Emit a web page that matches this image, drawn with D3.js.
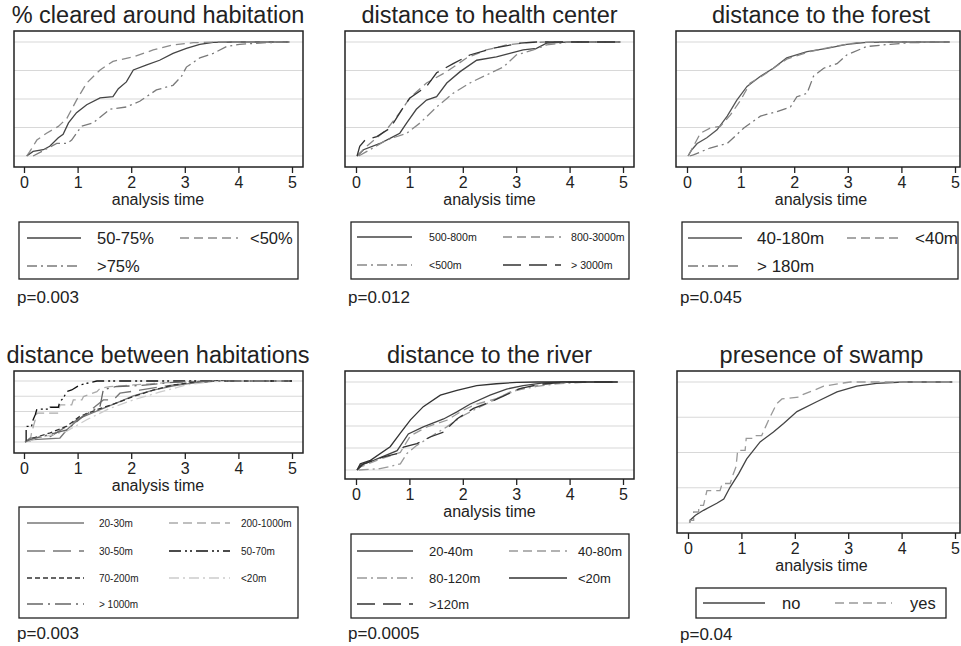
<!DOCTYPE html>
<html><head><meta charset="utf-8">
<script src="https://cdn.jsdelivr.net/npm/d3@7"></script>
<style>body{margin:0;background:#fff}svg{display:block}text{font-family:"Liberation Sans",Arial,sans-serif;fill:#222}</style>
</head><body>
<script>
// ---------- DATA (cumulative proportion vs analysis time) ----------
const xTicks = [0,1,2,3,4,5];
const yGrid = [0,0.25,0.5,0.75,1];

// Panel 1: % cleared around habitation
const cleared_labels = ["50-75%","<50%",">75%"];
const cleared_50_75 = [[0.05,0],[0.17,0.04],[0.36,0.055],[0.48,0.085],[0.64,0.16],[0.73,0.19],[0.83,0.29],[0.98,0.38],[1.17,0.45],[1.42,0.51],[1.66,0.52],[1.76,0.59],[1.91,0.65],[2.04,0.755],[2.29,0.8],[2.53,0.84],[2.78,0.9],[3.03,0.945],[3.28,0.98],[3.53,0.997],[3.9,1],[4.95,1]];
const cleared_lt50 = [[0.05,0],[0.11,0.04],[0.24,0.14],[0.42,0.2],[0.64,0.26],[0.8,0.33],[0.98,0.49],[1.17,0.64],[1.42,0.755],[1.66,0.83],[2.04,0.87],[2.41,0.93],[2.78,0.974],[3.16,0.994],[3.6,1],[4.95,1]];
const cleared_gt75 = [[0.17,0],[0.61,0.11],[0.8,0.11],[0.89,0.14],[1.07,0.26],[1.29,0.29],[1.6,0.41],[1.91,0.43],[2.16,0.48],[2.47,0.58],[2.78,0.62],[2.94,0.7],[3.03,0.78],[3.28,0.86],[3.53,0.9],[3.78,0.96],[4.02,0.98],[4.52,0.994],[4.95,1]];

// Panel 2: distance to health center
const health_labels = ["500-800m","800-3000m","<500m","> 3000m"];
const health_500_800 = [[0.02,0],[0.14,0.055],[0.45,0.11],[0.7,0.17],[0.82,0.2],[0.95,0.29],[1.13,0.41],[1.32,0.49],[1.51,0.52],[1.7,0.64],[1.95,0.74],[2.26,0.84],[2.63,0.87],[2.88,0.9],[3.13,0.93],[3.38,0.945],[3.57,0.99],[3.82,0.997],[4.06,1],[4.95,1]];
const health_800_3000 = [[0.02,0],[0.2,0.085],[0.57,0.23],[0.82,0.38],[1.01,0.51],[1.32,0.64],[1.7,0.74],[2.07,0.86],[2.44,0.93],[2.82,0.974],[3.19,0.994],[3.57,1],[4.95,1]];
const health_lt500 = [[0.05,0],[0.26,0.055],[0.57,0.14],[0.95,0.2],[1.2,0.29],[1.51,0.43],[1.82,0.55],[2.13,0.64],[2.44,0.71],[2.76,0.78],[3.0,0.886],[3.32,0.93],[3.57,0.974],[3.94,0.997],[4.3,1],[4.95,1]];
const health_gt3000 = [[0.02,0],[0.07,0.085],[0.17,0.14],[0.39,0.17],[0.64,0.245],[0.89,0.43],[1.01,0.51],[1.32,0.61],[1.51,0.73],[1.82,0.81],[2.13,0.886],[2.57,0.945],[3.07,0.99],[3.38,1],[4.95,1]];

// Panel 3: distance to the forest
const forest_labels = ["40-180m","<40m","> 180m"];
const forest_40_180 = [[0.02,0],[0.09,0.055],[0.19,0.11],[0.37,0.16],[0.56,0.23],[0.75,0.35],[0.93,0.49],[1.12,0.61],[1.37,0.7],[1.61,0.77],[1.86,0.86],[2.24,0.915],[2.61,0.945],[2.98,0.98],[3.35,0.997],[3.8,1],[4.9,1]];
const forest_lt40 = [[0.02,0],[0.12,0.085],[0.25,0.2],[0.43,0.245],[0.62,0.26],[0.81,0.36],[1.0,0.49],[1.18,0.64],[1.43,0.71],[1.86,0.85],[2.29,0.915],[2.73,0.96],[3.17,0.994],[3.66,1],[4.9,1]];
const forest_gt180 = [[0.05,0],[0.12,0.01],[0.43,0.07],[0.75,0.11],[1.06,0.245],[1.37,0.35],[1.68,0.39],[1.93,0.43],[2.05,0.52],[2.24,0.55],[2.36,0.7],[2.55,0.77],[2.8,0.81],[2.98,0.886],[3.35,0.96],[3.79,0.98],[4.16,0.994],[4.9,1]];

// Panel 4: distance between habitations
const hab_labels = ["20-30m","200-1000m","30-50m","50-70m","70-200m","<20m","> 1000m"];
const hab_20_30 = [[0.02,0],[0.17,0.04],[0.67,0.065],[0.8,0.2],[1.04,0.39],[1.42,0.53],[1.73,0.64],[2.04,0.755],[2.41,0.85],[2.79,0.92],[3.16,0.97],[3.53,0.995],[3.91,1],[4.95,1]];
const hab_200_1000 = [[0.11,0],[0.14,0.147],[0.21,0.364],[0.24,0.473],[0.64,0.473],[0.67,0.609],[0.89,0.609],[0.92,0.69],[1.08,0.69],[1.11,0.745],[1.36,0.826],[1.42,0.88],[1.6,0.908],[2.04,0.935],[2.66,0.973],[3.28,0.995],[3.91,1],[5.0,1]];
const hab_30_50 = [[0.02,0],[0.11,0.065],[0.49,0.09],[0.8,0.26],[1.1,0.42],[1.48,0.69],[1.67,0.69],[1.79,0.8],[2.16,0.85],[2.66,0.92],[3.03,0.96],[3.53,0.995],[3.91,1],[4.95,1]];
const hab_50_70 = [[0.04,0],[0.04,0.255],[0.14,0.255],[0.17,0.364],[0.21,0.446],[0.24,0.538],[0.49,0.538],[0.49,0.57],[0.64,0.57],[0.67,0.663],[0.73,0.717],[0.8,0.826],[0.89,0.853],[1.04,0.935],[1.23,0.973],[1.36,1],[5.0,1]];
const hab_70_200 = [[0.02,0],[0.17,0.065],[0.49,0.15],[0.8,0.26],[1.04,0.42],[1.36,0.53],[1.73,0.64],[2.04,0.745],[2.41,0.85],[2.79,0.935],[3.16,0.98],[3.53,1],[4.95,1]];
const hab_lt20 = [[0.02,0],[0.17,0.04],[0.8,0.18],[1.17,0.365],[1.6,0.55],[2.04,0.69],[2.54,0.82],[3.03,0.935],[3.53,0.99],[4.0,1],[4.95,1]];
const hab_gt1000 = [[0.02,0],[0.11,0.04],[0.8,0.2],[1.1,0.42],[1.42,0.59],[1.48,0.86],[1.73,0.91],[2.04,0.92],[2.35,0.94],[2.66,0.97],[3.03,0.99],[3.5,1],[4.95,1]];

// Panel 5: distance to the river
const river_labels = ["20-40m","40-80m","80-120m","<20m",">120m"];
const river_20_40 = [[0.02,0],[0.08,0.053],[0.33,0.11],[0.77,0.22],[0.98,0.41],[1.26,0.49],[1.64,0.58],[1.89,0.66],[2.14,0.75],[2.51,0.85],[2.82,0.92],[3.13,0.96],[3.51,0.99],[3.88,1],[4.9,1]];
const river_40_80 = [[0.02,0],[0.08,0.034],[0.39,0.11],[0.83,0.2],[1.02,0.39],[1.33,0.49],[1.7,0.565],[2.01,0.68],[2.26,0.75],[2.63,0.81],[2.95,0.905],[3.26,0.95],[3.63,0.98],[4.0,0.996],[4.25,1],[4.9,1]];
const river_80_120 = [[0.05,0],[0.45,0.015],[0.64,0.04],[0.83,0.07],[0.95,0.185],[1.14,0.28],[1.39,0.375],[1.7,0.49],[2.01,0.62],[2.32,0.716],[2.7,0.83],[3.01,0.905],[3.38,0.95],[3.75,0.98],[4.25,0.996],[4.88,1]];
const river_lt20 = [[0.02,0],[0.08,0.07],[0.27,0.11],[0.64,0.265],[0.83,0.42],[1.02,0.57],[1.26,0.72],[1.58,0.85],[1.89,0.905],[2.26,0.96],[2.63,0.98],[3.01,0.996],[3.4,1],[4.9,1]];
const river_gt120 = [[0.02,0],[0.14,0.07],[0.52,0.15],[0.77,0.185],[0.89,0.26],[1.14,0.3],[1.39,0.375],[1.64,0.43],[1.89,0.58],[2.2,0.7],[2.51,0.77],[2.76,0.84],[3.07,0.925],[3.44,0.975],[3.88,0.996],[4.36,1],[4.9,1]];

// Panel 6: presence of swamp
const swamp_labels = ["no","yes"];
const swamp_no = [[0.03,0],[0.04,0.02],[0.14,0.055],[0.29,0.09],[0.54,0.14],[0.67,0.17],[0.79,0.255],[0.95,0.35],[1.1,0.455],[1.35,0.575],[1.6,0.645],[1.79,0.705],[2.04,0.79],[2.41,0.86],[2.79,0.93],[3.16,0.97],[3.53,0.99],[4.03,1],[4.95,1]];
const swamp_yes = [[0.03,0],[0.03,0.019],[0.106,0.019],[0.106,0.078],[0.2,0.078],[0.2,0.125],[0.29,0.125],[0.355,0.23],[0.6,0.23],[0.64,0.28],[0.79,0.28],[0.85,0.35],[0.9,0.4],[0.93,0.515],[1.07,0.515],[1.09,0.6],[1.23,0.6],[1.26,0.62],[1.38,0.62],[1.45,0.68],[1.51,0.73],[1.6,0.8],[1.66,0.846],[1.76,0.88],[2.1,0.894],[2.16,0.913],[2.35,0.94],[2.54,0.97],[2.91,0.993],[3.04,1],[4.9,1]];

const pValues = ["p=0.003","p=0.012","p=0.045","p=0.003","p=0.0005","p=0.04"];
const titles = ["% cleared around habitation","distance to health center","distance to the forest","distance between habitations","distance to the river","presence of swamp"];

// ---------- STYLES / LAYOUT ----------
const DASH = {solid:null, dash:"9,5", dashdot:"10,4,2,4", longdash:"18,8", shortdash:"5,3", longdashdot:"16,5,2,5", dashdotdot:"12,4,2,3,2,4"};

const panels = [
 {frame:[14,31,303,167], xr:[24,292], yr:[156,42],
  series:[[cleared_50_75,"solid","#444"],[cleared_lt50,"dash","#8a8a8a"],[cleared_gt75,"dashdot","#7a7a7a"]], labels:cleared_labels,
  leg:{box:[19,222,298,279], fs:16.5, rows:[238,266], c1:[27,81,97], c2:[180,238,250]}, p:[17,303]},
 {frame:[345,31,634,167], xr:[356,623], yr:[156,42],
  series:[[health_500_800,"solid","#444"],[health_800_3000,"dash","#8a8a8a"],[health_lt500,"dashdot","#888"],[health_gt3000,"longdash","#333"]], labels:health_labels,
  leg:{box:[351,222,629,279], fs:10.6, rows:[237,265], c1:[357,412,429], c2:[503,561,571]}, p:[348,303]},
 {frame:[676,31,960,167], xr:[687,955], yr:[156,42],
  series:[[forest_40_180,"solid","#555"],[forest_lt40,"dash","#8a8a8a"],[forest_gt180,"dashdot","#777"]], labels:forest_labels,
  leg:{box:[682,222,958,279], fs:17, rows:[238,266], c1:[688,742,757], c2:[847,900,915]}, p:[680,303]},
 {frame:[14,371,303,453], xr:[24,292], yr:[442,381],
  series:[[hab_20_30,"solid","#777"],[hab_200_1000,"dash","#aaa"],[hab_30_50,"longdash","#777"],[hab_50_70,"dashdotdot","#111"],[hab_70_200,"shortdash","#333"],[hab_lt20,"dashdot","#ccc"],[hab_gt1000,"longdashdot","#666"]], labels:hab_labels,
  leg:{box:[19,507,298,618], fs:10, rows:[523,551,578,604], c1:[27,84,99], c2:[169,230,241]}, p:[17,639]},
 {frame:[345,371,634,479], xr:[356,623], yr:[470,382],
  series:[[river_20_40,"solid","#444"],[river_40_80,"dash","#999"],[river_80_120,"dashdot","#999"],[river_lt20,"solid","#333"],[river_gt120,"longdash","#333"]], labels:river_labels,
  leg:{box:[351,534,629,618], fs:13, rows:[551,578,604], c1:[357,413,429], c2:[509,567,578]}, p:[348,639]},
 {frame:[677,371,960,533], xr:[688,955], yr:[523,382],
  series:[[swamp_no,"solid","#444"],[swamp_yes,"dash","#999"]], labels:swamp_labels,
  leg:{box:[696,588,946,618], fs:16.5, rows:[603], c1:[703,765,782], c2:[835,892,910]}, p:[680,640]}
];

const svg = d3.select("body").append("svg").attr("width",961).attr("height",646);

panels.forEach((P,i)=>{
  const g = svg.append("g");
  const [fx0,fy0,fx1,fy1] = P.frame;
  const x = d3.scaleLinear().domain([0,5]).range(P.xr);
  const y = d3.scaleLinear().domain([0,1]).range(P.yr);
  const cx = (P.xr[0]+P.xr[1])/2;

  // title
  g.append("text").attr("x",cx).attr("y",fy0-8).attr("text-anchor","middle")
    .attr("font-size",23.5).text(titles[i]);

  // gridlines
  g.selectAll(".grid").data(yGrid).join("line")
    .attr("x1",fx0).attr("x2",fx1).attr("y1",d=>y(d)).attr("y2",d=>y(d))
    .attr("stroke","#d8d8d8").attr("stroke-width",1.2);

  // curves
  const line = d3.line().x(d=>x(d[0])).y(d=>y(d[1])).curve(d3.curveLinear);
  P.series.forEach(([data,dash,col])=>{
    g.append("path").attr("d",line(data)).attr("fill","none")
     .attr("stroke",col).attr("stroke-width",1.3)
     .attr("stroke-dasharray",DASH[dash]);
  });

  // frame
  g.append("rect").attr("x",fx0).attr("y",fy0).attr("width",fx1-fx0).attr("height",fy1-fy0)
    .attr("fill","none").attr("stroke","#222").attr("stroke-width",1.5);

  // x axis
  const ax = g.append("g").attr("transform",`translate(0,${fy1})`)
    .call(d3.axisBottom(x).tickValues(xTicks).tickFormat(d3.format("d")).tickSize(6).tickPadding(4));
  ax.select(".domain").remove();
  ax.selectAll("line").attr("stroke","#222").attr("stroke-width",1.3);
  ax.selectAll("text").attr("font-size",16).attr("fill","#222")
    .attr("font-family","Liberation Sans, Arial, sans-serif");

  g.append("text").attr("x",cx).attr("y",fy1+38).attr("text-anchor","middle")
    .attr("font-size",16).text("analysis time");

  // legend
  const L = P.leg;
  g.append("rect").attr("x",L.box[0]).attr("y",L.box[1]).attr("width",L.box[2]-L.box[0]).attr("height",L.box[3]-L.box[1])
    .attr("fill","none").attr("stroke","#222").attr("stroke-width",1.3);
  P.series.forEach(([data,dash,col],k)=>{
    const row = L.rows[Math.floor(k/2)];
    const c = k%2===0 ? L.c1 : L.c2;
    g.append("line").attr("x1",c[0]).attr("x2",c[1]).attr("y1",row).attr("y2",row)
      .attr("stroke",col).attr("stroke-width",1.3).attr("stroke-dasharray",DASH[dash]);
    g.append("text").attr("x",c[2]).attr("y",row).attr("dy","0.35em")
      .attr("font-size",L.fs).text(P.labels[k]);
  });

  g.append("text").attr("x",P.p[0]).attr("y",P.p[1]).attr("font-size",17).text(pValues[i]);
});
</script>
</body></html>
